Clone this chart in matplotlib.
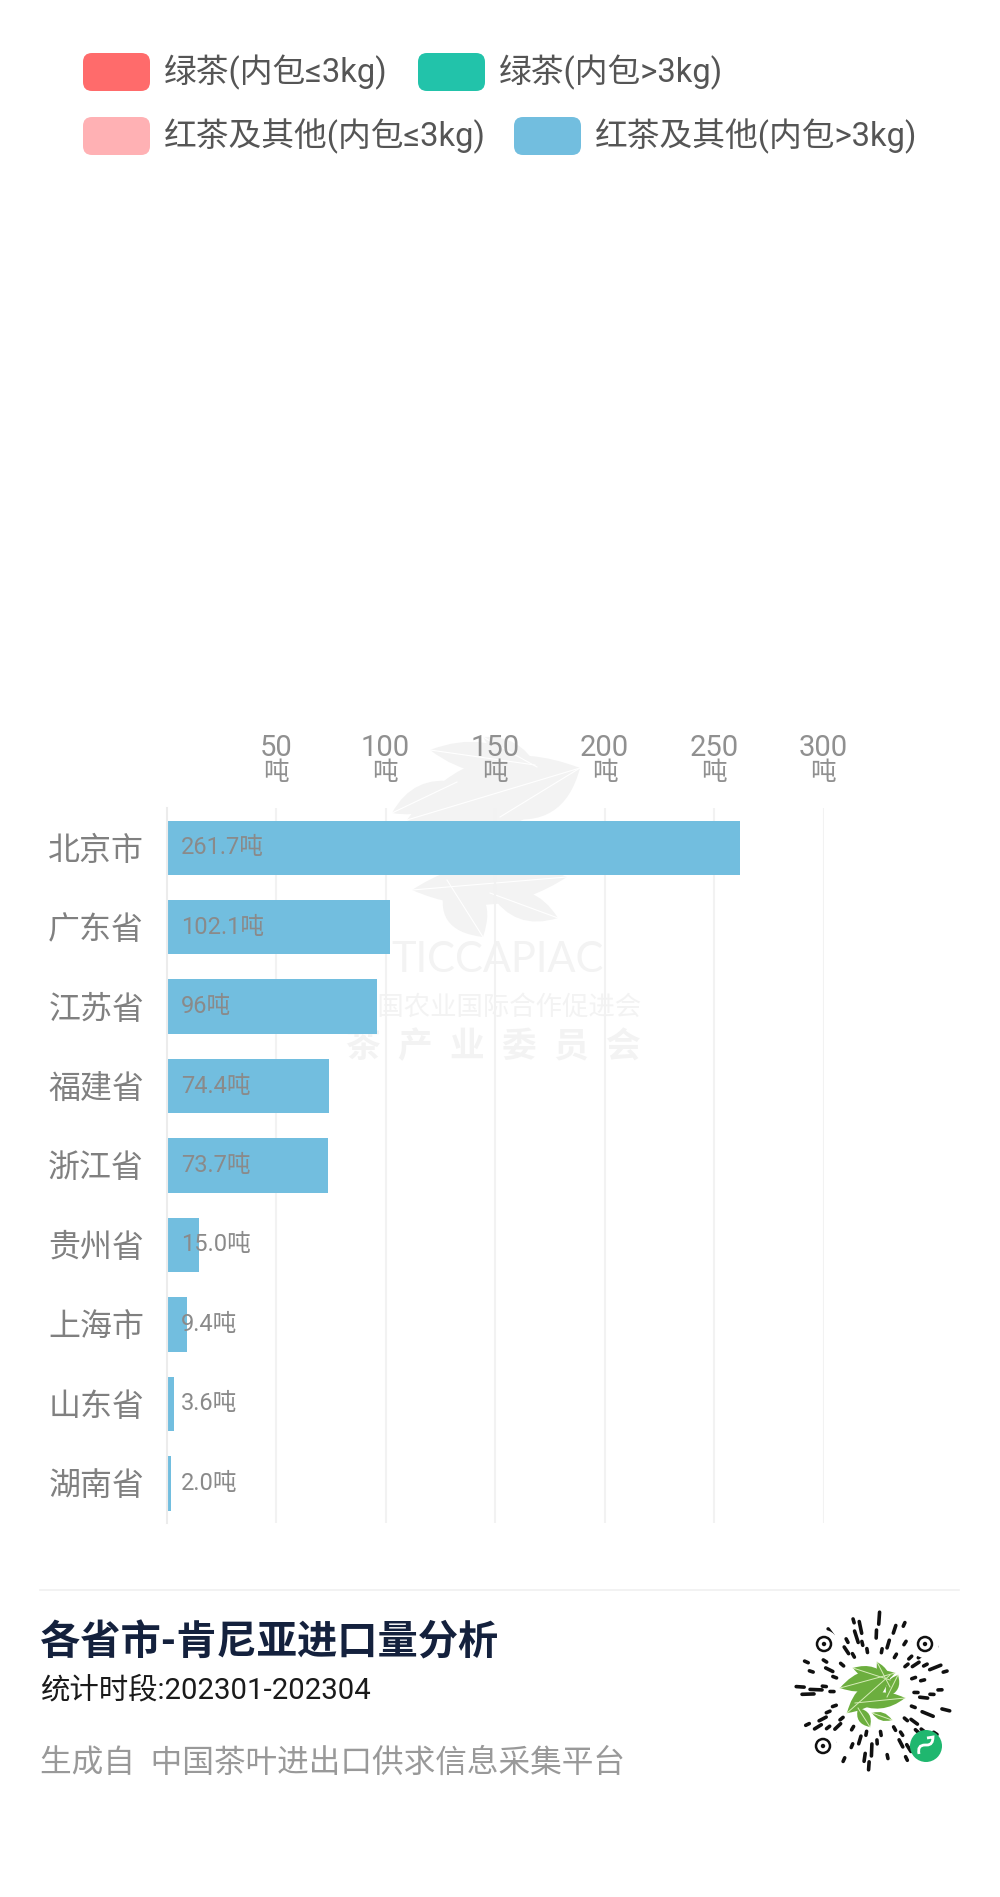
import numpy as np
import matplotlib
matplotlib.use('Agg')
import matplotlib.pyplot as plt
from matplotlib.patches import Circle, FancyBboxPatch, PathPatch
from matplotlib.path import Path

plt.rcParams['font.family'] = ['Roboto', 'Noto Sans CJK SC', 'DejaVu Sans']

provinces = ['北京市', '广东省', '江苏省', '福建省', '浙江省', '贵州省', '上海市', '山东省', '湖南省']
series_names = ['绿茶(内包≤3kg)', '绿茶(内包>3kg)', '红茶及其他(内包≤3kg)', '红茶及其他(内包>3kg)']
series_colors = ['#ff6b6b', '#22c3aa', '#ffb1b4', '#72bedf']
green_small = [0, 0, 0, 0, 0, 0, 0, 0, 0]
green_large = [0, 0, 0, 0, 0, 0, 0, 0, 0]
black_small = [0, 0, 0, 0, 0, 0, 0, 0.4, 0.4]
black_large = [261.7, 102.1, 96, 74.4, 73.7, 15.0, 9.4, 3.2, 1.6]
bar_labels = ['261.7吨', '102.1吨', '96吨', '74.4吨', '73.7吨', '15.0吨', '9.4吨', '3.6吨', '2.0吨']
x_ticks = [50, 100, 150, 200, 250, 300]

W, H = 1000, 1897
fig = plt.figure(figsize=(W / 100, H / 100), dpi=100, facecolor='white')

# page layer in pixel coordinates: legend, watermark, footer
bg = fig.add_axes([0, 0, 1, 1], zorder=0)
bg.set_xlim(0, W)
bg.set_ylim(H, 0)
bg.axis('off')


def add_leaf(start, end, bulge, color, vein=None, vein_lw=1.0):
    start, end = np.array(start, float), np.array(end, float)
    d = end - start
    n = np.array([-d[1], d[0]]) / np.hypot(*d)
    mid = (start + end) / 2
    verts = [start, mid + n * bulge, end, mid - n * bulge, start]
    codes = [Path.MOVETO, Path.CURVE3, Path.CURVE3, Path.CURVE3, Path.CURVE3]
    bg.add_patch(PathPatch(Path(verts, codes), fc=color, ec='none'))
    if vein:
        bg.plot([start[0], end[0]], [start[1], end[1]], color=vein, lw=vein_lw)


# legend
legend_pos = [(83, 72), (418, 72), (83, 136), (514, 136)]
for name, color, (lx, ly) in zip(series_names, series_colors, legend_pos):
    bg.add_patch(FancyBboxPatch((lx, ly - 19), 67, 38, boxstyle='round,pad=0,rounding_size=9',
                                fc=color, ec='none'))
    bg.text(lx + 81, ly, name, fontsize=23.6, color='#555555', va='center', ha='left')

# watermark logo and text, sits under the bars
wm = '#f3f3f3'
wm_leaves = [
    ((430, 750), (535, 765), 30), ((483, 737), (537, 767), 20), ((392, 813), (457, 782), 26),
    ((407, 820), (580, 768), 70), ((500, 817), (580, 768), 45), ((412, 890), (567, 877), 42),
    ((447, 880), (483, 937), 42), ((490, 893), (558, 918), 28),
]
for (s, e, b) in wm_leaves:
    add_leaf(s, e, b, wm, vein='white', vein_lw=0.8)
bg.text(497.5, 960, 'TICCAPIAC', fontsize=30, color=wm, ha='center', va='center', family=['Lato', 'DejaVu Sans'])
bg.text(497, 1008, '中国农业国际合作促进会', fontsize=19, color=wm, ha='center', va='center')
bg.text(493, 1047, '茶  产  业  委  员  会', fontsize=25, color=wm, ha='center', va='center', fontweight='bold')

# footer
bg.plot([40, 959], [1590, 1590], color='#f0f0f0', lw=1.2)
bg.text(40, 1643, '各省市-肯尼亚进口量分析', fontsize=29, fontweight='bold', color='#14213d', va='center')
bg.text(40, 1690, '统计时段:202301-202304', fontsize=21.2, color='#1a1a1a', va='center')
bg.text(40, 1763, '生成自  中国茶叶进出口供求信息采集平台', fontsize=22.8, color='#999999', va='center')

# mini program code
qx, qy = 874, 1692
ring_radii = [42, 50, 58, 66, 74]
ring_dashes = [
    '101010101010101010101010101010101010',
    '200120102002010010200201001020020100',
    '100103010200301001200300100130200101',
    '003020102001020030100200300201003010',
    '100201030100201002010301002010020103',
]
for radius, dashes in zip(ring_radii, ring_dashes):
    for i, ch in enumerate(dashes):
        if ch == '0':
            continue
        ang = 2 * np.pi * i / len(dashes) + radius * 0.1
        r0, r1 = radius - int(ch) * 2, radius + int(ch) * 2
        bg.plot([qx + r0 * np.cos(ang), qx + r1 * np.cos(ang)],
                [qy + r0 * np.sin(ang), qy + r1 * np.sin(ang)],
                color='#111111', lw=2.6, solid_capstyle='round')
for (fx, fy) in [(824, 1644), (925, 1644), (823, 1746)]:
    bg.add_patch(Circle((fx, fy), 14, fc='white', ec='none', zorder=3))
    bg.add_patch(Circle((fx, fy), 7, fc='none', ec='#111111', lw=1.8, zorder=4))
    bg.add_patch(Circle((fx, fy), 2.2, fc='#111111', ec='none', zorder=4))
qr_leaves = [
    ((853, 1668), (890, 1680), 14), ((877, 1662), (890, 1687), 10), ((840, 1688), (895, 1673), 20),
    ((847, 1713), (890, 1675), 20), ((898, 1675), (887, 1697), 12), ((855, 1703), (905, 1698), 16),
    ((858, 1708), (870, 1727), 12), ((872, 1713), (892, 1720), 8),
]
for (s, e, b) in qr_leaves:
    add_leaf(s, e, b, '#6cae3e', vein='#d6ecb8', vein_lw=0.7)
bg.add_patch(Circle((926, 1746), 16, fc='#1fb76f', ec='none', zorder=5))
glyph = Path([(919, 1754), (917, 1745), (925, 1745), (927, 1745), (933, 1745), (933, 1737), (927, 1738)],
             [Path.MOVETO, Path.CURVE3, Path.CURVE3, Path.LINETO, Path.CURVE3, Path.CURVE3, Path.LINETO])
bg.add_patch(PathPatch(glyph, fc='none', ec='white', lw=2, zorder=6))

# chart
left, right, top, bottom = 166.5, 823.5, 808.1, 1523
ax = fig.add_axes([left / W, 1 - bottom / H, (right - left) / W, (bottom - top) / H], zorder=1)
ax.patch.set_alpha(0)

y = np.arange(len(provinces))
base = np.zeros(len(provinces))
for values, color in zip([green_small, green_large, black_small, black_large], series_colors):
    ax.barh(y, values, left=base, height=0.686, color=color, zorder=2)
    base += np.array(values)

for i, label in enumerate(bar_labels):
    ax.annotate(label, xy=(0, i), xytext=(10.5, 0), textcoords='offset points',
                fontsize=17, color='#8a8a8a', va='center', ha='left', zorder=3)

ax.set_xlim(0, 300)
ax.set_ylim(len(provinces) - 0.5, -0.5)
ax.xaxis.tick_top()
ax.set_xticks(x_ticks)
ax.set_xticklabels([str(t) for t in x_ticks], fontsize=21, color='#909090')
for t in x_ticks:
    ax.annotate('吨', xy=(t, 1), xycoords=('data', 'axes fraction'), xytext=(0, 25.5),
                textcoords='offset points', fontsize=18.5, color='#909090', ha='center', va='center',
                annotation_clip=False)
ax.set_yticks(y)
ax.set_yticklabels(provinces, fontsize=23, color='#808080')
ax.tick_params(axis='both', length=0)
ax.tick_params(axis='x', pad=33.5)
ax.tick_params(axis='y', pad=16)
ax.grid(axis='x', color='#f2f2f2', lw=1.5, zorder=0)
ax.set_axisbelow(True)
for side in ['top', 'right', 'bottom']:
    ax.spines[side].set_visible(False)
ax.spines['left'].set_color('#ececec')
ax.spines['left'].set_linewidth(1.5)

fig.savefig('out.png', dpi=100)
